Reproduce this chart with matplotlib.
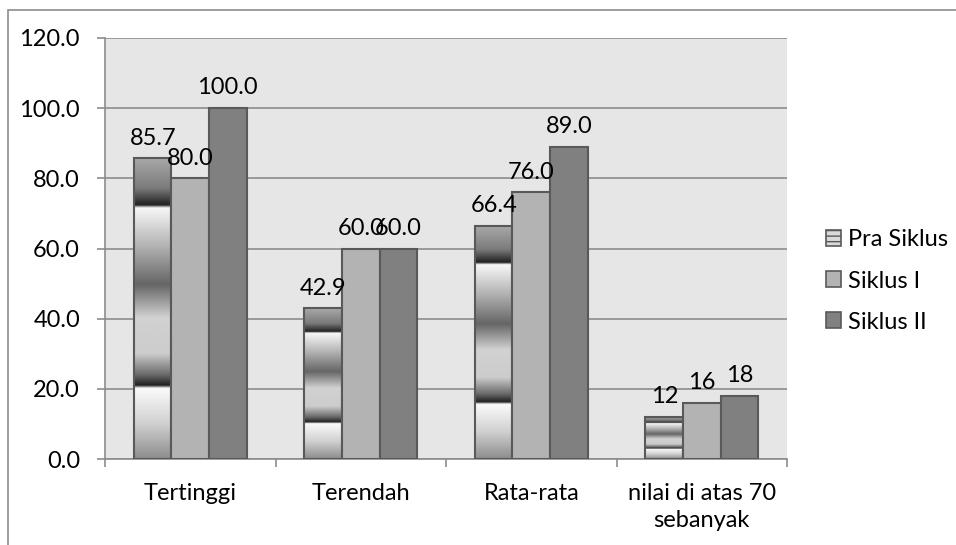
import numpy as np
import matplotlib.pyplot as plt
from matplotlib.patches import Patch, Rectangle

# Nilai per kategori dan siklus
categories = ['Tertinggi', 'Terendah', 'Rata-rata', 'nilai di atas 70\nsebanyak']
pra_siklus = [85.7, 42.9, 66.4, 12]
siklus_1 = [80.0, 60.0, 76.0, 16]
siklus_2 = [100.0, 60.0, 89.0, 18]
label_fmt = ['{:.1f}', '{:.1f}', '{:.1f}', '{:.0f}']
series_names = ['Pra Siklus', 'Siklus I', 'Siklus II']

plt.rcParams['font.family'] = ['Lato', 'DejaVu Sans']
FS = 17

fig = plt.figure(figsize=(9.56, 5.45), dpi=100)
fig.patch.set_facecolor('white')

# chart frame (runs off the right and bottom edges)
fig.patches.append(Rectangle((8 / 956, -0.1), 1.2, 1 - 10 / 545 + 0.1,
                             transform=fig.transFigure, fill=False,
                             edgecolor='#8c8c8c', lw=1.2))

ax = fig.add_axes([105 / 956, 1 - 459 / 545, 682 / 956, 421 / 545])
ax.set_facecolor('#e6e6e6')

x = np.arange(len(categories))
w = 0.22
edge = '#595959'

bars_pra = ax.bar(x - w, pra_siklus, w, color='none', edgecolor=edge, lw=1.5, zorder=3)
bars_1 = ax.bar(x, siklus_1, w, color='#b3b3b3', edgecolor=edge, lw=1.5, zorder=3)
bars_2 = ax.bar(x + w, siklus_2, w, color='#808080', edgecolor=edge, lw=1.5, zorder=3)

# banded gradient fill stretched over each Pra Siklus bar (t = 0 at top)
stops_t = [0.0, 0.10, 0.155, 0.165, 0.30, 0.42, 0.53, 0.65, 0.72, 0.755, 0.765, 0.88, 1.0]
stops_v = [0.66, 0.48, 0.13, 0.97, 0.68, 0.40, 0.82, 0.80, 0.42, 0.13, 0.98, 0.82, 0.55]
t = np.linspace(0, 1, 600)
grad = np.interp(t, stops_t, stops_v)[:, None]
for b in bars_pra:
    x0, h = b.get_x(), b.get_height()
    im = ax.imshow(grad, cmap='gray', vmin=0, vmax=1, aspect='auto',
                   extent=(x0, x0 + b.get_width(), 0, h), zorder=2.5,
                   interpolation='bilinear')
    im.set_clip_path(b)

for bars, vals in [(bars_pra, pra_siklus), (bars_1, siklus_1), (bars_2, siklus_2)]:
    for b, v, fmt in zip(bars, vals, label_fmt):
        ax.annotate(fmt.format(v), (b.get_x() + b.get_width() / 2, v),
                    xytext=(0, 7), textcoords='offset points',
                    ha='center', va='bottom', fontsize=FS, color='black', zorder=5)

ax.set_xlim(-0.5, len(categories) - 0.5)
ax.set_ylim(0, 120)
ax.set_yticks(np.arange(0, 121, 20))
ax.set_yticklabels(['{:.1f}'.format(v) for v in np.arange(0, 121, 20)])
ax.set_xticks(np.arange(-0.5, len(categories)), minor=False)
ax.set_xticklabels([])
ax.set_xticks(x, minor=True)
ax.set_xticklabels(categories, minor=True, fontsize=FS, linespacing=1.35)
ax.tick_params(axis='x', which='minor', length=0, pad=17)
ax.tick_params(axis='x', which='major', length=6, color='#8c8c8c', width=1.2)
ax.tick_params(axis='y', length=6, color='#8c8c8c', width=1.2, labelsize=FS, pad=12)

ax.grid(axis='y', color='#8c8c8c', lw=1.2, zorder=1)
ax.set_axisbelow(True)
for s in ['top', 'right']:
    ax.spines[s].set_visible(False)
for s in ['left', 'bottom']:
    ax.spines[s].set_color('#8c8c8c')
    ax.spines[s].set_linewidth(1.2)

handles = [Patch(facecolor='#d9d9d9', edgecolor=edge, hatch='---', lw=1.2),
           Patch(facecolor='#b3b3b3', edgecolor=edge, lw=1.2),
           Patch(facecolor='#808080', edgecolor=edge, lw=1.2)]
fig.legend(handles, series_names, loc='center left',
           bbox_to_anchor=(826 / 956, 1 - 281 / 545), frameon=False,
           fontsize=FS, handlelength=0.65, handleheight=0.65,
           handletextpad=0.3, labelspacing=0.85, borderpad=0, borderaxespad=0)

fig.savefig('out.png', dpi=100)
